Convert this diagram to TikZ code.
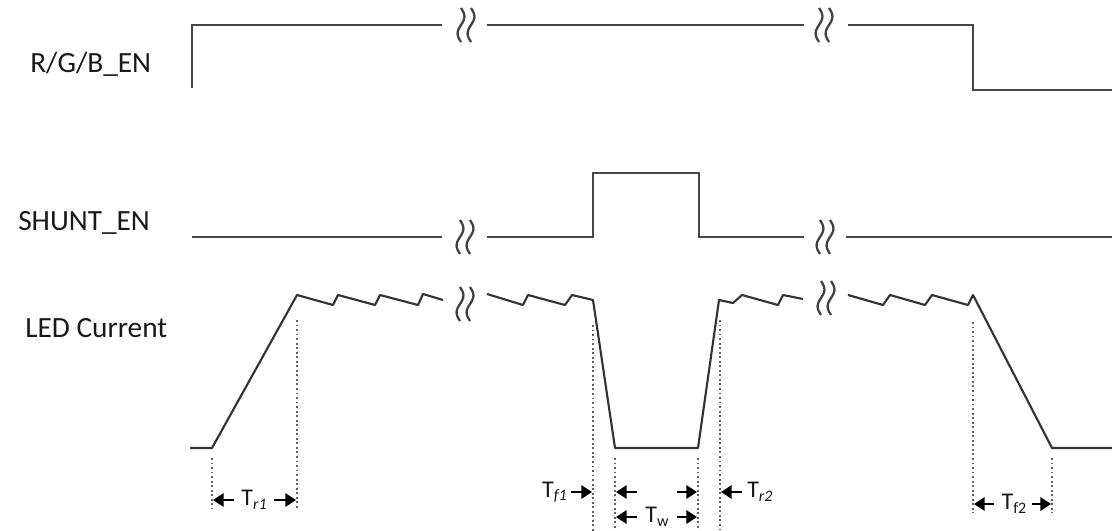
\documentclass[tikz,border=0pt]{standalone}
\usepackage{fontspec}
\setmainfont{Carlito}
\usetikzlibrary{arrows.meta}
\newcommand\Tsub[2][\upshape]{T\raisebox{-0.3ex}{\fontsize{12}{13}\selectfont #1#2}}
\begin{document}
\begin{tikzpicture}[x=0.75pt,y=-0.75pt,
  sig/.style={draw=black!72, line width=1.8pt, line join=miter},
  cur/.style={draw=black!80, line width=1.6pt, line join=round},
  guide/.style={draw=black!62, line width=1.4pt, dotted},
  dimarrow/.style={draw=black, line width=1.8pt, -{Triangle[length=8pt,width=10pt]}},
  siglabel/.style={anchor=base west, font=\fontsize{22}{25}\selectfont, inner sep=0pt, text=black!90},
  tlabel/.style={font=\fontsize{18}{20}\selectfont, inner sep=0pt, text=black!90},
  brk/.pic={\foreach \d in {-5,5}{\draw[black!75, line width=1.7pt] plot[domain=-17:17, samples=35, smooth] ({\d-3.4*sin(10.6*\x)},{\x});}}
]
\useasboundingbox (0,0) rectangle (1112,531);

% signal labels
\node[siglabel] (lrgb) at (30,73) {R/G/B\_EN};
\node[siglabel] (lshunt) at (18,230) {SHUNT\_EN};
\node[siglabel] (lled) at (25,337) {LED Current};

% R/G/B_EN
\draw[sig] (192,88) -- (192,25) -- (442,25);
\draw[sig] (487,25) -- (804,25);
\draw[sig] (848,25) -- (973,25) -- (973,90) -- (1112,90);
\pic at (466,25) {brk};
\pic at (824,25) {brk};

% SHUNT_EN
\draw[sig] (192,237) -- (442,237);
\draw[sig] (487,237) -- (593,237) -- (593,173) -- (699,173) -- (699,237) -- (804,237);
\draw[sig] (846,237) -- (1112,237);
\pic at (465,237) {brk};
\pic at (825,237) {brk};

% LED current
\draw[cur] (190,448) -- (212,448) -- (297,295) -- (333,305) -- (338,295) -- (375,305) -- (380,295) -- (418,305) -- (423,294) -- (443,300);
\draw[cur] (487,294) -- (523,305) -- (528,295) -- (565,305) -- (572,295) -- (593,300) -- (615,448) -- (698,448) -- (719,300) -- (733,303) -- (742,295) -- (778,305) -- (783,295) -- (803,299);
\draw[cur] (848,295) -- (883,305) -- (890,295) -- (925,305) -- (932,295) -- (968,305) -- (973,295) -- (1052,448) -- (1112,448);
\pic at (465,304) {brk};
\pic at (826,298) {brk};

% guide lines
\draw[guide] (212,458) -- (212,508);
\draw[guide] (297,320) -- (297,508);
\draw[guide] (593,325) -- (593,531);
\draw[guide] (615,458) -- (615,531);
\draw[guide] (698,458) -- (698,531);
\draw[guide] (720,320) -- (720,531);
\draw[guide] (973,322) -- (973,513);
\draw[guide] (1052,458) -- (1052,513);

% timing labels and arrows
\node[tlabel] (tr1) at (254,500) {\Tsub[\itshape]{r1}};
\draw[dimarrow] (234,500) -- (213,500);
\draw[dimarrow] (274,500) -- (296,500);

\node[tlabel, anchor=east] (tf1) at (567,492) {\Tsub[\itshape]{f1}};
\draw[dimarrow] (571,492) -- (592,492);

\draw[dimarrow] (637,492) -- (616,492);
\draw[dimarrow] (677,492) -- (697,492);

\draw[dimarrow] (742,492) -- (721,492);
\node[tlabel, anchor=west] (tr2) at (747,492) {\Tsub[\itshape]{r2}};

\node[tlabel] (tw) at (657,517) {\Tsub{w}};
\draw[dimarrow] (637,517) -- (616,517);
\draw[dimarrow] (677,517) -- (697,517);

\node[tlabel] (tf2) at (1014,504) {\Tsub{f2}};
\draw[dimarrow] (994,504) -- (974,504);
\draw[dimarrow] (1032,504) -- (1051,504);
\end{tikzpicture}
\end{document}
